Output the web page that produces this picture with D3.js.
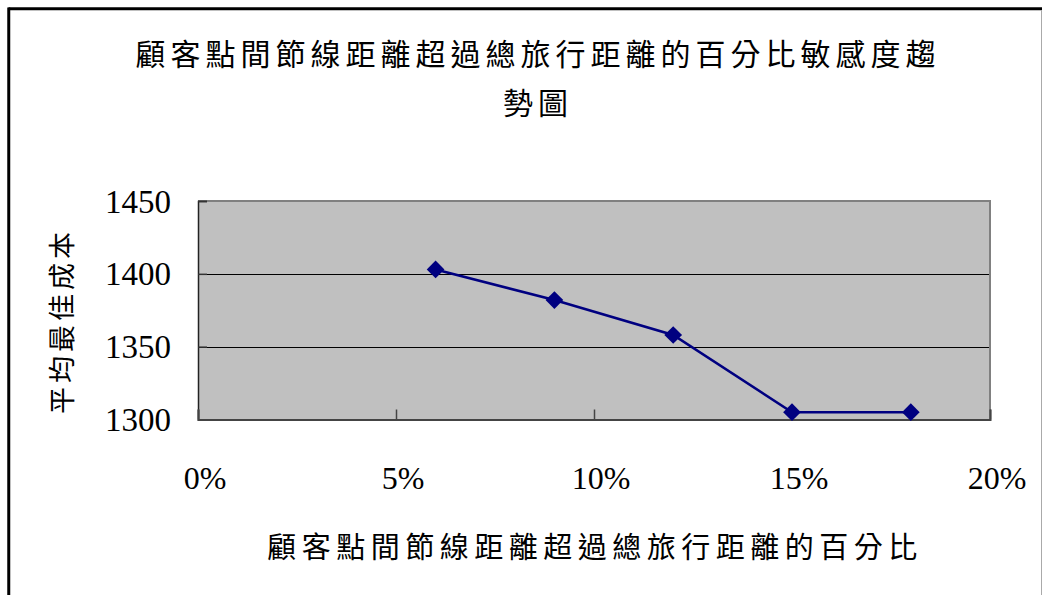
<!DOCTYPE html>
<html><head><meta charset="utf-8">
<script src="https://cdn.jsdelivr.net/npm/d3@7"></script>
<style>
html,body{margin:0;padding:0;background:#fff;}
svg{display:block;}
</style></head>
<body>
<svg id="chart" width="1043" height="595"></svg>
<script>
const xValues = [0.06, 0.09, 0.12, 0.15, 0.18];
const yValues = [1403, 1382, 1358, 1305, 1305];
const xTicks = [0, 0.05, 0.10, 0.15, 0.20];
const yTicks = [1300, 1350, 1400, 1450];
const titleLines = ["顧客點間節線距離超過總旅行距離的百分比敏感度趨", "勢圖"];
const xTitle = "顧客點間節線距離超過總旅行距離的百分比";
const yTitle = "平均最佳成本";

const svg = d3.select("#chart");
const cjk = "'Noto Sans CJK TC','Noto Sans CJK SC',sans-serif";
const num = "'Liberation Serif','DejaVu Serif',serif";

// outer frame
svg.append("line").attr("x1",8.5).attr("x2",1042).attr("y1",8.75).attr("y2",8.75).attr("stroke","#000").attr("stroke-width",3);
svg.append("line").attr("x1",8.75).attr("x2",8.75).attr("y1",7.5).attr("y2",595).attr("stroke","#000").attr("stroke-width",3);
svg.append("line").attr("x1",1041.5).attr("x2",1041.5).attr("y1",10).attr("y2",595).attr("stroke","#aaa").attr("stroke-width",1);

const L=198, R=990, T=201, B=419.5;
const x = d3.scaleLinear().domain([0,0.20]).range([L,R]);
const y = d3.scaleLinear().domain([1300,1450]).range([B,T]);

// plot area
svg.append("rect").attr("x",L).attr("y",T).attr("width",R-L).attr("height",B-T).attr("fill","#c0c0c0");
// gridlines
svg.append("g").selectAll("line").data(yTicks.filter(d=>d>1300 && d<1450)).join("line")
  .attr("x1",L).attr("x2",R).attr("y1",d=>Math.round(y(d))+0.5).attr("y2",d=>Math.round(y(d))+0.5)
  .attr("stroke","#000").attr("stroke-width",1);
// top/right border
svg.append("path").attr("d",`M${L},${T} H${R} V${B}`).attr("fill","none").attr("stroke","#808080").attr("stroke-width",2);

// axes with inward ticks
const yAxis = d3.axisLeft(y).tickValues(yTicks).tickSize(-9).tickFormat("");
const gy = svg.append("g").attr("transform",`translate(${L},0)`).call(yAxis);
gy.selectAll("path,line").attr("stroke","#333").attr("stroke-width",1.5);
const xAxis = d3.axisBottom(x).tickValues(xTicks).tickSize(-10).tickFormat("");
const gx = svg.append("g").attr("transform",`translate(0,${B})`).call(xAxis);
gx.selectAll("path,line").attr("stroke","#444").attr("stroke-width",1.5);
gx.select(".domain").attr("stroke","#444").attr("stroke-width",2);
gy.select(".domain").attr("stroke","#222").attr("stroke-width",1.5);

// tick labels
svg.append("g").selectAll("text").data(yTicks).join("text")
  .attr("x",171).attr("y",d=>y(d)+4).attr("text-anchor","end").attr("dominant-baseline","middle")
  .style("font-family",num).style("font-size","33px").text(d=>d);
svg.append("g").selectAll("text").data(xTicks).join("text")
  .attr("x",d=>x(d)+7).attr("y",489).attr("text-anchor","middle")
  .style("font-family",num).style("font-size","32px").text(d=>d3.format(".0%")(d));

// line + markers
const pts = xValues.map((v,i)=>[v,yValues[i]]);
svg.append("path").datum(pts).attr("fill","none").attr("stroke","#000080").attr("stroke-width",2.6)
  .attr("d",d3.line().x(d=>x(d[0])).y(d=>y(d[1])));
svg.append("g").selectAll("path").data(pts).join("path")
  .attr("transform",d=>`translate(${x(d[0])},${y(d[1])})`)
  .attr("d",d3.symbol().type(d3.symbolDiamond2).size(200))
  .attr("fill","#000080");

// titles
svg.append("g").selectAll("text").data(titleLines).join("text")
  .attr("x",538).attr("y",(d,i)=>52+i*49).attr("text-anchor","middle").attr("dominant-baseline","central")
  .style("font-family",cjk).style("font-size","30px").style("letter-spacing","5px").text(d=>d);
svg.append("text").attr("x",595).attr("y",545).attr("text-anchor","middle").attr("dominant-baseline","central")
  .style("font-family",cjk).style("font-size","29px").style("letter-spacing","5.5px").text(xTitle);
svg.append("text").attr("transform","translate(60,321) rotate(-90)").attr("text-anchor","middle").attr("dominant-baseline","central")
  .style("font-family",cjk).style("font-size","27px").style("letter-spacing","4px").text(yTitle);
</script>
</body></html>
